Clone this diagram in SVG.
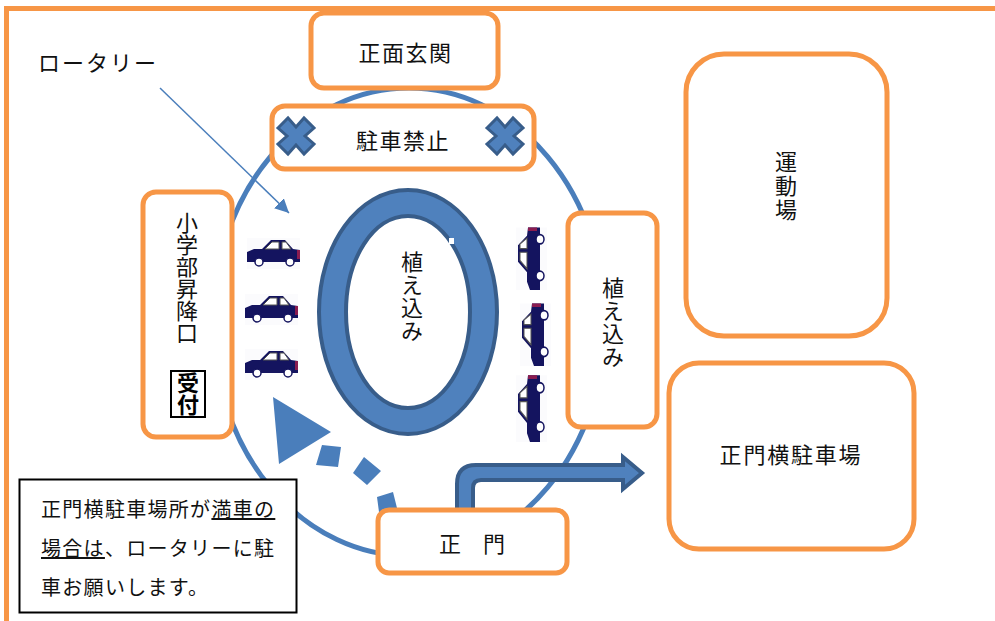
<svg xmlns="http://www.w3.org/2000/svg" xmlns:xlink="http://www.w3.org/1999/xlink" width="995" height="621" viewBox="0 0 995 621">
<style>
text{font-family:"Noto Sans CJK JP","Noto Sans CJK SC",sans-serif;fill:#111;font-size:22px}
.box{fill:#fff;stroke:#f79646;stroke-width:5}
.m{text-anchor:middle}
.v{writing-mode:vertical-rl;letter-spacing:1px}
.blue{fill:#4a7ebb}
.shape{fill:#4f81bd;stroke:#385d8a;stroke-width:4}
.n{font-size:20px;letter-spacing:1.3px}
</style>
<defs>
<marker id="ah" markerUnits="userSpaceOnUse" markerWidth="16" markerHeight="16" refX="14" refY="7" orient="auto"><path d="M0,0L14,7L0,14Z" fill="#4a7ebb"/></marker>
<g id="car">
<rect x="0" y="0" width="53" height="31" fill="#fbfbfd"/>
<path d="M0,14L7,11H15L24,2H38L46,11L53,12V24H0Z" fill="#14145f"/>
<path d="M18,11L25,4H32V11ZM35,4H39L44,11H35Z" fill="#fff" stroke="#555" stroke-width="1"/>
<rect x="50" y="12" width="3" height="9" fill="#8a1c50"/>
<circle cx="12" cy="24" r="4" fill="#fff" stroke="#14145f" stroke-width="1.500"/>
<circle cx="43" cy="24" r="4" fill="#fff" stroke="#14145f" stroke-width="1.500"/>
</g>
<path id="cross" d="M-18,-8L-8,-18L0,-9L8,-18L18,-8L9,0L18,8L8,18L0,9L-8,18L-18,8L-9,0Z"/>
</defs>
<g id="frame"><path d="M6.500,621V8.500H995" fill="none" stroke="#f79646" stroke-width="5"/></g>
<g id="connectors">
<ellipse cx="409" cy="322" rx="196" ry="234" fill="none" stroke="#4a7ebb" stroke-width="5"/>
<line x1="160" y1="88" x2="289" y2="213" stroke="#4a7ebb" stroke-width="1.500" marker-end="url(#ah)"/>
</g>
<g id="planting-ring">
<path class="shape" fill-rule="evenodd" d="M408,190C458,190 497,245 497,312C497,379 458,434 408,434C358,434 319,379 319,312C319,245 358,190 408,190ZM408,216C373,216 346,259 346,312C346,365 373,408 408,408C443,408 470,365 470,312C470,259 443,216 408,216Z"/>
<rect x="449" y="238" width="5" height="6" fill="#fff"/>
</g>
<g id="flow">
<path class="blue" d="M273,397L331,432L279,464ZM322,445L341,447L338,467L316,465ZM364,457L381,471L367,485L353,473ZM377,497L393,492L398,512L379,512Z"/>
<path fill="#4f81bd" stroke="#385d8a" stroke-width="4" d="M457,512V484Q457,465 476,465H623V457L642,473L623,489V480H481Q473,480 473,488V512Z"/>
</g>
<g id="cars">
<use xlink:href="#car" x="247" y="238"/>
<use xlink:href="#car" x="245" y="294"/>
<use xlink:href="#car" x="245" y="349"/>
<use xlink:href="#car" transform="translate(516,290) rotate(-90) scale(1.180,1)"/>
<use xlink:href="#car" transform="translate(520,366) rotate(-90) scale(1.180,1)"/>
<use xlink:href="#car" transform="translate(516,442) rotate(-90) scale(1.260,1)"/>
</g>
<g id="front"><rect class="box" x="311" y="13" width="187" height="75" rx="13"/><text class="m" x="405.500" y="61" style="letter-spacing:1.500px">正面玄関</text></g>
<g id="noparking"><rect class="box" x="272" y="106" width="262" height="63" rx="13"/>
<text class="m" x="403" y="149" style="letter-spacing:1.500px">駐車禁止</text>
<use xlink:href="#cross" x="296" y="136" class="shape" style="stroke-width:3"/>
<use xlink:href="#cross" x="505" y="136" class="shape" style="stroke-width:3"/></g>
<g id="rotary-label"><text x="38" y="71" style="letter-spacing:2px">ロータリー</text></g>
<g id="pickup"><rect class="box" x="143" y="192" width="89" height="245" rx="13"/>
<text class="v" x="187" y="212" style="letter-spacing:0">小学部昇降口</text>
<rect x="171" y="371" width="34" height="46" fill="#fff" stroke="#000" stroke-width="2"/>
<text class="v" x="188" y="372" style="font-weight:700;letter-spacing:0;fill:#000">受付</text></g>
<g id="planting-center"><text class="v" x="412" y="251">植え込み</text></g>
<g id="planting-right"><rect class="box" x="568" y="213" width="89" height="214" rx="13"/><text class="v" x="613" y="277">植え込み</text></g>
<g id="ground"><rect class="box" x="686" y="54" width="201" height="282" rx="38"/><text class="v" x="786" y="151" style="letter-spacing:2px">運動場</text></g>
<g id="side-parking"><rect class="box" x="669" y="363" width="245" height="186" rx="30"/><text class="m" x="791" y="463" style="letter-spacing:1.800px">正門横駐車場</text></g>
<g id="gate"><rect class="box" x="378" y="510" width="189" height="63" rx="11"/><text class="m" x="472" y="552">正　門</text></g>
<g id="note"><rect x="19.500" y="479.500" width="277" height="133" fill="#fff" stroke="#000" stroke-width="2"/>
<text class="n" x="41" y="517">正門横駐車場所が<tspan text-decoration="underline">満車の</tspan></text>
<text class="n" x="41" y="556"><tspan text-decoration="underline">場合は</tspan>、ロータリーに駐</text>
<text class="n" x="41" y="595">車お願いします。</text></g>
</svg>
